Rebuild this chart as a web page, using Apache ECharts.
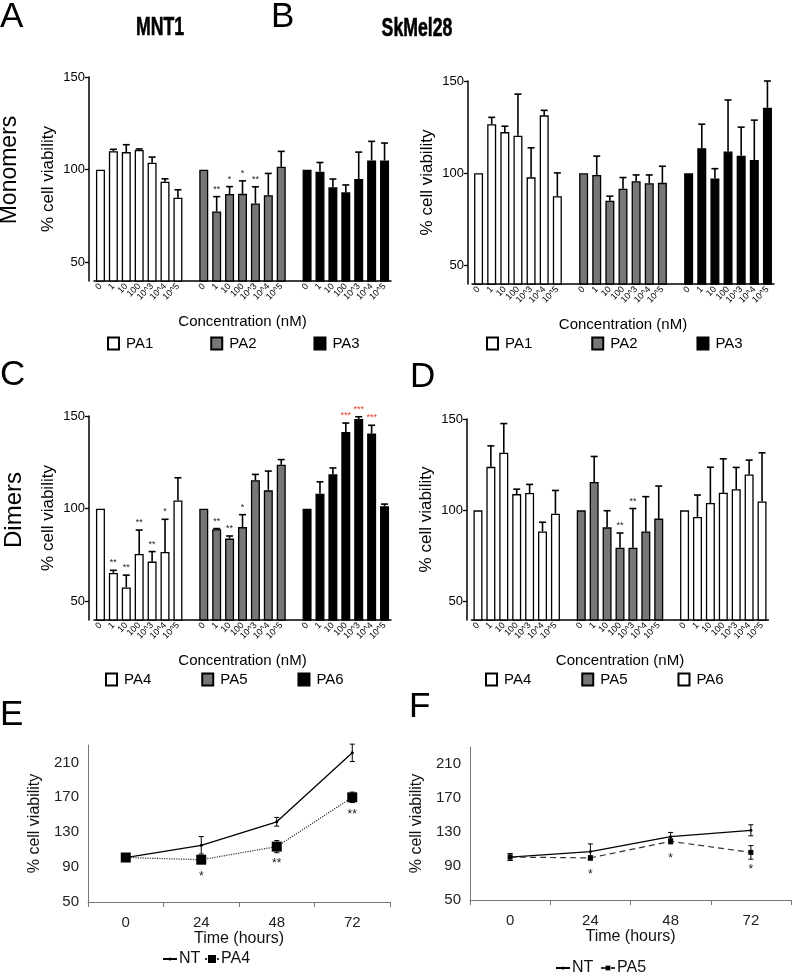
<!DOCTYPE html>
<html><head><meta charset="utf-8">
<script src="https://cdn.jsdelivr.net/npm/echarts@6/dist/echarts.min.js"></script>
<style>html,body{margin:0;padding:0;background:#fff}#c{width:792px;height:974px}</style>
</head><body><div id="c"></div>
<script>
// ---------- data ----------
const concLabels = ['0', '1', '10', '100', '10^3', '10^4', '10^5'];
const timeLabels = ['0', '24', '48', '72'];

// Panel A: MNT1 monomers
const A_PA1 = [100, 110, 109.5, 110.6, 103.8, 93.5, 84.9];
const A_PA1_err = [0, 1, 4, 0.6, 3, 1.6, 4.3];
const A_PA2 = [100, 77.5, 86.9, 87, 81.8, 86.3, 101.6];
const A_PA2_err = [0, 8, 4, 7, 9, 11.7, 8.3];
const A_PA2_stars = ['', '**', '*', '*', '**', '', ''];
const A_PA3 = [100, 98.9, 90.5, 87.8, 95, 105, 105];
const A_PA3_err = [0, 5, 4.5, 4, 14.5, 10.3, 9.4];

// Panel B: SkMel28 monomers
const B_PA1 = [100, 126.6, 122.3, 120.3, 97.8, 131.4, 87.6];
const B_PA1_err = [0, 3.7, 3.2, 22.6, 16, 2.7, 12.6];
const B_PA2 = [100, 99.1, 85.1, 91.6, 95.7, 94.6, 94.8];
const B_PA2_err = [0, 10.2, 2.5, 6.1, 3.4, 4.5, 9];
const B_PA3 = [100, 113.6, 97.1, 111.8, 109.5, 107.2, 135.5];
const B_PA3_err = [0, 13, 5.4, 27.9, 15.5, 21.6, 14.5];

// Panel C: MNT1 dimers
const C_PA4 = [100, 65.4, 57.5, 75.6, 71.5, 76.7, 104.5];
const C_PA4_err = [0, 1.4, 6.7, 12.9, 5.4, 17.6, 12.2];
const C_PA4_stars = ['', '**', '**', '**', '**', '*', ''];
const C_PA5 = [100, 88.9, 83.9, 90.1, 115.4, 109.9, 123.7];
const C_PA5_err = [0, 0.4, 1.4, 6.7, 3.1, 10.4, 2.8];
const C_PA5_stars = ['', '**', '**', '*', '', '', ''];
const C_PA6 = [100, 108.1, 118.6, 141.4, 148.4, 140.5, 101.3];
const C_PA6_err = [0, 6.4, 3.4, 4.8, 1.2, 4.5, 1.2];
const C_PA6_stars = ['', '', '', '***', '***', '***', ''];

// Panel D: SkMel28 dimers
const D_PA4 = [100, 123.8, 131.5, 108.9, 109.5, 88.5, 98.2];
const D_PA4_err = [0, 11.5, 16, 2.7, 4.7, 5, 12.7];
const D_PA5 = [100, 115.5, 90.7, 79.5, 79.5, 88.5, 95.5];
const D_PA5_err = [0, 14, 9.1, 8.1, 21.5, 19, 17.8];
const D_PA5_stars = ['', '', '', '**', '**', '', ''];
const D_PA6 = [100, 96.4, 104, 109.6, 111.6, 119.6, 104.9];
const D_PA6_err = [0, 12, 19.6, 18.6, 11.9, 7.9, 26.6];

// Panel E: MNT1 time course
const E_NT = [101, 115, 142, 221];
const E_NT_err = [1.5, 10, 5, 10];
const E_PA4 = [101, 98.5, 113.5, 170];
const E_PA4_err = [2, 4, 7, 6];
const E_stars = ['', '*', '**', '**'];

// Panel F: SkMel28 time course
const F_NT = [100.5, 107, 124.5, 132];
const F_NT_err = [4, 9, 5, 6.5];
const F_PA5 = [100.5, 99.5, 119, 106];
const F_PA5_err = [4, 2.5, 3, 8];
const F_stars = ['', '*', '*', '*'];

// ---------- styling helpers ----------
const FONT = "'Liberation Sans',Arial,sans-serif";
const FONT2 = "'Liberation Sans',Arial,sans-serif";
const WHITE = '#ffffff', GRAY = '#777777', BLACK = '#000000', RED = '#e0402a';

const cats = [...concLabels, '', ...concLabels, '', ...concLabels];
function place(vals, g) {
  const out = cats.map(() => '-');
  vals.forEach((v, i) => { out[g * 8 + i] = v; });
  return out;
}
function errData(vals, errs, g) { return vals.map((v, i) => [g * 8 + i, v, errs[i]]); }

function barErrRender(stars, starColor) {
  return function (params, api) {
    const x = api.value(0), v = api.value(1), e = api.value(2);
    const p0 = api.coord([x, v]), p1 = api.coord([x, v + e]);
    const st = { stroke: '#000', lineWidth: 1.6 };
    const ch = [];
    if (e > 0) {
      ch.push({ type: 'line', shape: { x1: p0[0], y1: p0[1], x2: p1[0], y2: p1[1] }, style: st });
      ch.push({ type: 'line', shape: { x1: p1[0] - 3.5, y1: p1[1], x2: p1[0] + 3.5, y2: p1[1] }, style: st });
    }
    const s = stars ? stars[params.dataIndex] : '';
    if (s) ch.push({ type: 'text', x: p1[0], y: p1[1] - 3, style: { text: s, fill: starColor || '#222', font: '9px ' + FONT2, align: 'center', verticalAlign: 'bottom' } });
    return { type: 'group', children: ch };
  };
}
function lineErrRender(stars) {
  return function (params, api) {
    const x = api.value(0), v = api.value(1), e = api.value(2);
    const pm = api.coord([x, v]), hi = api.coord([x, v + e]), lo = api.coord([x, v - e]);
    const st = { stroke: '#000', lineWidth: 1 };
    const ch = [
      { type: 'line', shape: { x1: hi[0], y1: hi[1], x2: lo[0], y2: lo[1] }, style: st },
      { type: 'line', shape: { x1: hi[0] - 2.5, y1: hi[1], x2: hi[0] + 2.5, y2: hi[1] }, style: st },
      { type: 'line', shape: { x1: lo[0] - 2.5, y1: lo[1], x2: lo[0] + 2.5, y2: lo[1] }, style: st }
    ];
    const s = stars ? stars[params.dataIndex] : '';
    if (s) ch.push({ type: 'text', x: pm[0], y: pm[1] + 11, style: { text: s, fill: '#222', font: '12px ' + FONT2, align: 'center', verticalAlign: 'top' } });
    return { type: 'group', children: ch };
  };
}

function barSeries(name, grid, vals, g, color) {
  return { type: 'bar', name, xAxisIndex: grid, yAxisIndex: grid, data: place(vals, g), barWidth: 9, barGap: '-100%',
    itemStyle: { color, borderColor: '#000', borderWidth: 1.3 }, emphasis: { disabled: true } };
}
function barErrSeries(grid, vals, errs, g, stars, starColor) {
  return { type: 'custom', xAxisIndex: grid, yAxisIndex: grid, data: errData(vals, errs, g), z: 5,
    encode: { x: 0, y: 1 }, renderItem: barErrRender(stars, starColor), silent: true };
}
function barX(grid) {
  return { type: 'category', gridIndex: grid, data: cats, name: 'Concentration (nM)', nameLocation: 'middle', nameGap: 33,
    nameTextStyle: { fontSize: 15, color: '#000', fontFamily: FONT },
    axisLine: { lineStyle: { color: '#000', width: 1.5 } },
    axisTick: { alignWithLabel: true, interval: (i, v) => v !== '', length: 3, lineStyle: { color: '#000', width: 1 } },
    axisLabel: { interval: 0, rotate: 45, fontSize: 9, color: '#000', margin: 4, fontFamily: FONT2 } };
}
function barY(grid, offset) {
  return { type: 'value', gridIndex: grid, min: 40, max: 150, offset, name: '% cell viability', nameLocation: 'middle', nameGap: 32,
    nameTextStyle: { fontSize: 17, color: '#000', fontFamily: FONT },
    axisLine: { show: true, lineStyle: { color: '#000', width: 1.5 } },
    axisTick: { show: true, length: 4, customValues: [50, 100, 150], lineStyle: { color: '#000', width: 1.3 } },
    axisLabel: { customValues: [50, 100, 150], fontSize: 13, color: '#000', margin: 4, fontFamily: FONT },
    splitLine: { show: false } };
}
function timeX(grid) {
  return { type: 'category', gridIndex: grid, data: timeLabels, boundaryGap: true, name: 'Time (hours)', nameLocation: 'middle', nameGap: 24,
    nameTextStyle: { fontSize: 16, color: '#111', fontFamily: FONT2 },
    axisLine: { lineStyle: { color: '#777', width: 1 } },
    axisTick: { show: true, length: 5, interval: 0, lineStyle: { color: '#777' } },
    axisLabel: { fontSize: 15, color: '#222', margin: 13, fontFamily: FONT2 } };
}
function timeY(grid) {
  return { type: 'value', gridIndex: grid, min: 50, max: 230, name: '% cell viability', nameLocation: 'middle', nameGap: 45,
    nameTextStyle: { fontSize: 16, color: '#111', fontFamily: FONT2 },
    axisLine: { show: true, lineStyle: { color: '#777', width: 1 } },
    axisTick: { show: false },
    axisLabel: { customValues: [50, 90, 130, 170, 210], fontSize: 15, color: '#222', margin: 9, fontFamily: FONT2 },
    splitLine: { show: false } };
}
function lineErrSeries(grid, vals, errs, stars) {
  return { type: 'custom', xAxisIndex: grid, yAxisIndex: grid, data: vals.map((v, i) => [i, v, errs[i]]), z: 1,
    encode: { x: 0, y: 1 }, renderItem: lineErrRender(stars), silent: true };
}
const fmt = n => n.split('_')[1];
function barLegend(left, top, gap, names) {
  return { left, top, padding: 0, itemGap: gap, itemWidth: 11, itemHeight: 12, icon: 'rect', data: names, formatter: fmt,
    selectedMode: false, textStyle: { fontSize: 15, color: '#000', fontFamily: FONT, padding: [0, 0, 0, 2] } };
}
function lineLegend(left, top, name, h) {
  return { left, top, padding: 0, itemWidth: 14, itemHeight: h, itemGap: 0, data: [name], formatter: fmt, selectedMode: false,
    textStyle: { fontSize: 16, color: '#111', fontFamily: FONT2, padding: [0, 0, 0, -3] } };
}

const option = {
  animation: false,
  backgroundColor: '#fff',
  textStyle: { fontFamily: FONT2 },
  grid: [
    { left: 94, top: 77, width: 297, height: 204 },
    { left: 472, top: 81, width: 302, height: 203 },
    { left: 94, top: 416, width: 297, height: 204 },
    { left: 471.5, top: 419, width: 297, height: 201 },
    { left: 88, top: 745, width: 302, height: 157 },
    { left: 470, top: 747, width: 321, height: 153 }
  ],
  xAxis: [barX(0), barX(1), barX(2), barX(3), timeX(4), timeX(5)],
  yAxis: [barY(0, 5), barY(1, 4), barY(2, 5), barY(3, 4.5), timeY(4), timeY(5)],
  legend: [
    barLegend(107, 336, 57, ['A_PA1', 'A_PA2', 'A_PA3']),
    barLegend(486, 336, 59, ['B_PA1', 'B_PA2', 'B_PA3']),
    barLegend(105, 672, 50, ['C_PA4', 'C_PA5', 'C_PA6']),
    barLegend(485, 672, 50, ['D_PA4', 'D_PA5', 'D_PA6']),
    lineLegend(162, 951, 'E_NT', 4),
    lineLegend(204, 951, 'E_PA4', 10),
    lineLegend(555, 960, 'F_NT', 4),
    lineLegend(600, 960, 'F_PA5', 6)
  ],
  series: [
    barSeries('A_PA1', 0, A_PA1, 0, WHITE), barSeries('A_PA2', 0, A_PA2, 1, GRAY), barSeries('A_PA3', 0, A_PA3, 2, BLACK),
    barErrSeries(0, A_PA1, A_PA1_err, 0), barErrSeries(0, A_PA2, A_PA2_err, 1, A_PA2_stars), barErrSeries(0, A_PA3, A_PA3_err, 2),
    barSeries('B_PA1', 1, B_PA1, 0, WHITE), barSeries('B_PA2', 1, B_PA2, 1, GRAY), barSeries('B_PA3', 1, B_PA3, 2, BLACK),
    barErrSeries(1, B_PA1, B_PA1_err, 0), barErrSeries(1, B_PA2, B_PA2_err, 1), barErrSeries(1, B_PA3, B_PA3_err, 2),
    barSeries('C_PA4', 2, C_PA4, 0, WHITE), barSeries('C_PA5', 2, C_PA5, 1, GRAY), barSeries('C_PA6', 2, C_PA6, 2, BLACK),
    barErrSeries(2, C_PA4, C_PA4_err, 0, C_PA4_stars), barErrSeries(2, C_PA5, C_PA5_err, 1, C_PA5_stars), barErrSeries(2, C_PA6, C_PA6_err, 2, C_PA6_stars, RED),
    barSeries('D_PA4', 3, D_PA4, 0, WHITE), barSeries('D_PA5', 3, D_PA5, 1, GRAY), barSeries('D_PA6', 3, D_PA6, 2, WHITE),
    barErrSeries(3, D_PA4, D_PA4_err, 0), barErrSeries(3, D_PA5, D_PA5_err, 1, D_PA5_stars), barErrSeries(3, D_PA6, D_PA6_err, 2),
    lineErrSeries(4, E_NT, E_NT_err), lineErrSeries(4, E_PA4, E_PA4_err, E_stars),
    { type: 'line', name: 'E_NT', xAxisIndex: 4, yAxisIndex: 4, data: E_NT, symbol: 'circle', symbolSize: 3,
      lineStyle: { color: '#000', width: 1.3 }, itemStyle: { color: '#000' }, z: 3 },
    { type: 'line', name: 'E_PA4', xAxisIndex: 4, yAxisIndex: 4, data: E_PA4, symbol: 'rect', symbolSize: 10,
      lineStyle: { color: '#333', width: 1.2, type: 'dotted' }, itemStyle: { color: '#000' }, z: 3 },
    lineErrSeries(5, F_NT, F_NT_err), lineErrSeries(5, F_PA5, F_PA5_err, F_stars),
    { type: 'line', name: 'F_NT', xAxisIndex: 5, yAxisIndex: 5, data: F_NT, symbol: 'circle', symbolSize: 3,
      lineStyle: { color: '#000', width: 1.2 }, itemStyle: { color: '#000' }, z: 3 },
    { type: 'line', name: 'F_PA5', xAxisIndex: 5, yAxisIndex: 5, data: F_PA5, symbol: 'rect', symbolSize: 5,
      lineStyle: { color: '#333', width: 1.2, type: [6, 4] }, itemStyle: { color: '#000' }, z: 3 }
  ],
  graphic: [
    { type: 'text', x: 0, y: 0, style: { text: 'A', font: '35px ' + FONT2, fill: '#000' } },
    { type: 'text', x: 271, y: 0, style: { text: 'B', font: '35px ' + FONT2, fill: '#000' } },
    { type: 'text', x: 0, y: 358, style: { text: 'C', font: '35px ' + FONT2, fill: '#000' } },
    { type: 'text', x: 410, y: 360, style: { text: 'D', font: '35px ' + FONT2, fill: '#000' } },
    { type: 'text', x: 0, y: 698, style: { text: 'E', font: '35px ' + FONT2, fill: '#000' } },
    { type: 'text', x: 409, y: 690, style: { text: 'F', font: '35px ' + FONT2, fill: '#000' } },
    { type: 'text', x: 160, y: 28, scaleX: 0.68, style: { text: 'MNT1', font: 'bold 26px ' + FONT, fill: '#000', align: 'center', verticalAlign: 'middle', stroke: '#000', lineWidth: 0.6 } },
    { type: 'text', x: 417, y: 29, scaleX: 0.68, style: { text: 'SkMel28', font: 'bold 26px ' + FONT, fill: '#000', align: 'center', verticalAlign: 'middle', stroke: '#000', lineWidth: 0.6 } },
    { type: 'text', x: 10, y: 170, rotation: Math.PI / 2, style: { text: 'Monomers', font: '23px ' + FONT2, fill: '#000', align: 'center', verticalAlign: 'middle' } },
    { type: 'text', x: 14, y: 510, rotation: Math.PI / 2, style: { text: 'Dimers', font: '24px ' + FONT2, fill: '#000', align: 'center', verticalAlign: 'middle' } }
  ]
};
const chart = echarts.init(document.getElementById('c'), null, { renderer: 'canvas' });
chart.setOption(option);
</script>
</body></html>
